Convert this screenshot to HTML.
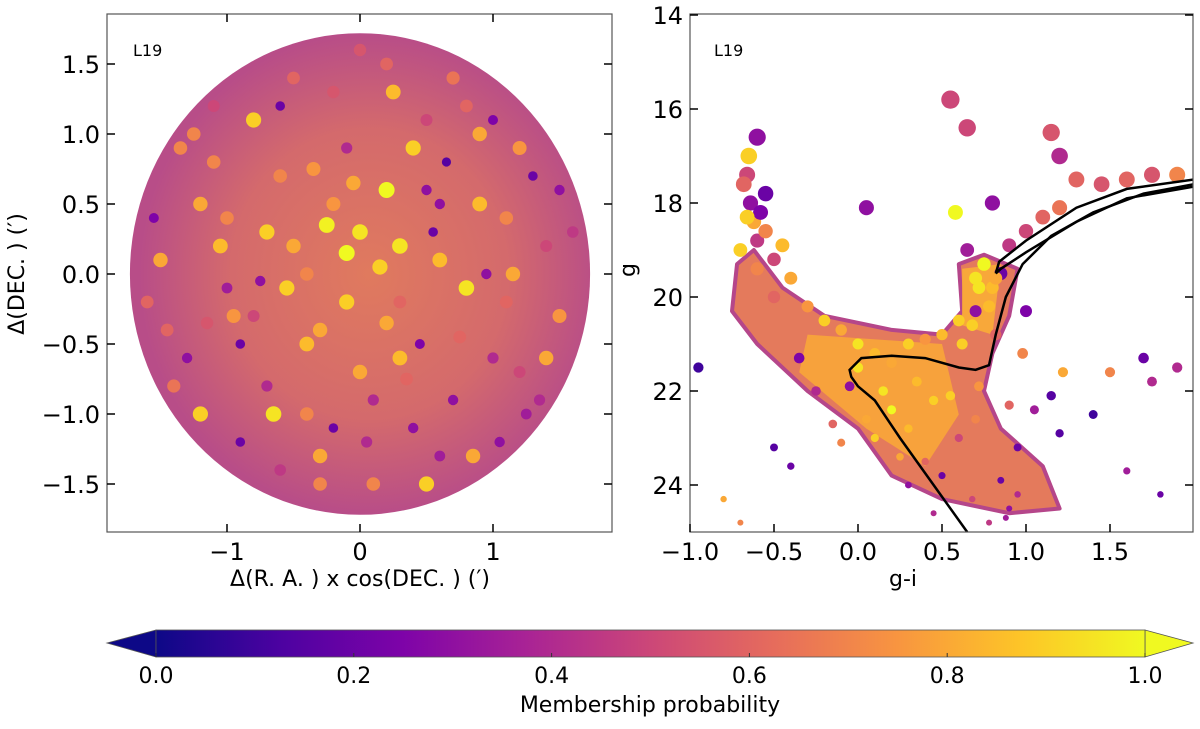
<!DOCTYPE html>
<html><head><meta charset="utf-8"><style>
body{margin:0;background:#fff;}
svg text{font-family:"DejaVu Sans","Liberation Sans",sans-serif;fill:#000;}
</style></head><body>
<svg id="fig" width="1200" height="724" viewBox="0 0 1200 724" xmlns="http://www.w3.org/2000/svg">
<defs>
<linearGradient id="plasma" x1="0" x2="1" y1="0" y2="0">
<stop offset="0" stop-color="#0d0887"/><stop offset="0.125" stop-color="#4c02a1"/><stop offset="0.25" stop-color="#7e03a8"/><stop offset="0.375" stop-color="#a92395"/><stop offset="0.5" stop-color="#cc4778"/><stop offset="0.625" stop-color="#e66c5c"/><stop offset="0.75" stop-color="#f89540"/><stop offset="0.875" stop-color="#fdc527"/><stop offset="1" stop-color="#f0f921"/>
</linearGradient>
<radialGradient id="diskgrad" cx="0.52" cy="0.5" r="0.5">
<stop offset="0" stop-color="#e07a5e"/><stop offset="0.6" stop-color="#d46a6c"/><stop offset="1" stop-color="#b84d88"/>
</radialGradient>
<clipPath id="clipL"><rect x="107" y="14" width="505" height="518"/></clipPath>
<clipPath id="clipR"><rect x="690" y="14" width="503" height="518"/></clipPath>
</defs>
<g id="left"></g>
<g id="right"></g>
<g id="cbar"></g>
</svg>
<script>
// ---- Sky panel data ----
const skyX=[-1.5,-1.3,-1.1,-0.9,-0.7,-0.5,-0.3,-0.1,0.1,0.3,0.5,0.7,0.9,1.1,1.3,1.5,-1.4,-1.2,-1.0,-0.8,-0.6,-0.4,-0.2,0.0,0.2,0.4,0.6,0.8,1.0,1.2,1.4,-1.2,-0.9,-0.6,-0.3,0.0,0.3,0.6,0.9,1.2,-1.0,-0.7,-0.4,-0.1,0.2,0.5,0.8,1.1,-0.8,-0.5,-0.2,0.1,0.4,0.7,-0.6,-0.3,0.0,0.3,0.6,-1.6,1.6,-0.1,0.2,-0.4,0.5,-1.1,1.0,0.15,-0.25,0.35,1.35,-1.35,0.85,-0.75,-1.55,-1.45,1.5,1.4,-0.2,0.25,-0.95,0.95,-0.55,0.65,-1.25,1.25,-0.05,0.45,-0.65,0.75,1.05,-1.05,0.05,-0.35,0.55,1.15,-1.15];
const skyY=[0.1,-0.6,0.8,-1.2,0.3,1.4,-0.4,0.9,-1.5,0.2,1.1,-0.9,0.5,-0.2,0.7,-0.3,-0.8,0.5,-0.1,1.1,-1.4,0.0,1.3,-0.7,0.6,-1.1,0.1,1.2,-0.6,0.9,0.2,-1.0,-0.5,0.7,-1.3,0.3,-0.2,-1.3,1.0,-0.7,0.4,-0.8,-0.5,-0.2,1.5,0.6,-0.1,0.4,-0.3,0.2,0.5,-0.9,0.9,1.4,1.2,-1.5,1.6,-0.6,0.5,-0.2,0.3,0.15,-0.35,-1.0,-1.5,1.2,1.1,0.05,0.35,-0.75,-0.9,0.9,-1.3,-0.05,0.4,-0.4,0.6,-0.6,-1.1,1.3,-0.3,0.0,-0.1,0.8,1.0,-1.0,0.65,-0.5,-1.0,-0.45,-1.2,0.2,-1.2,0.75,0.3,0.0,-0.35];
const skyProb=[0.8,0.3,0.7,0.2,0.9,0.6,0.8,0.4,0.7,0.95,0.5,0.3,0.85,0.6,0.2,0.75,0.65,0.8,0.35,0.9,0.45,0.7,0.55,0.8,1.0,0.3,0.85,0.6,0.4,0.75,0.5,0.9,0.2,0.7,0.8,0.95,0.6,0.35,0.8,0.5,0.7,0.4,0.85,0.9,0.6,0.3,0.95,0.7,0.5,0.8,0.75,0.4,0.9,0.65,0.2,0.7,0.55,0.85,0.3,0.6,0.45,1.0,0.8,0.7,0.9,0.5,0.25,0.9,0.98,0.6,0.4,0.7,0.8,0.3,0.25,0.6,0.3,0.8,0.2,0.85,0.75,0.3,0.9,0.15,0.7,0.35,0.8,0.25,0.95,0.6,0.3,0.85,0.4,0.75,0.2,0.8,0.55];
const skyXTicks=[-1,0,1];
const skyYTicks=[-1.5,-1.0,-0.5,0.0,0.5,1.0,1.5];
// ---- CMD panel data ----
const cmdColor=[-0.65,-0.66,-0.6,-0.55,-0.7,-0.45,-0.4,-0.6,-0.3,-0.5,-0.2,-0.1,0.0,0.1,0.2,0.3,0.4,0.5,0.6,0.7,0.75,0.8,0.7,0.65,0.85,0.9,1.0,1.1,1.2,0.55,0.58,0.65,0.8,1.15,1.2,1.3,1.45,1.6,1.75,1.9,0.05,-0.05,0.98,1.22,1.5,1.7,1.75,1.9,1.0,1.05,1.15,0.9,0.95,1.2,1.4,1.6,1.8,-0.8,-0.95,-0.7,-0.5,-0.4,-0.15,0.85,0.95,0.45,0.2,0.3,0.1,-0.1,0.4,0.6,0.3,0.5,0.15,0.7,0.25,0.55,0.35,0.62,0.72,0.82,0.68,0.9,-0.25,-0.35,0.0,0.05,0.45,0.78,0.88,-0.68,-0.64,-0.62,-0.6,-0.58,-0.55,-0.66,-0.5,0.72,0.78,0.68,0.82];
const cmdMag=[17.0,17.4,16.6,17.8,19.0,18.9,19.6,19.4,20.2,20.0,20.5,20.7,21.0,21.2,21.4,21.0,20.9,20.8,20.5,19.6,19.3,19.8,20.3,19.0,19.5,18.9,18.6,18.3,18.1,15.8,18.2,16.4,18.0,16.5,17.0,17.5,17.6,17.5,17.4,17.4,18.1,21.9,21.2,21.6,21.6,21.3,21.8,21.5,20.3,22.4,22.1,22.3,23.2,22.9,22.5,23.7,24.2,24.3,21.5,24.8,23.2,23.6,22.7,23.9,24.2,22.2,22.4,22.8,23.0,23.1,23.5,23.0,24.0,23.8,22.0,22.6,23.4,22.1,21.8,21.0,21.9,20.8,24.3,24.5,22.0,21.3,21.5,22.6,24.6,24.8,24.7,17.6,18.0,18.4,18.8,18.2,18.6,18.3,19.2,19.8,20.2,20.6,19.6];
const cmdProb=[0.9,0.5,0.3,0.2,0.9,0.85,0.8,0.7,0.75,0.6,0.9,0.8,0.95,0.85,0.8,0.9,0.75,0.85,0.9,0.95,1.0,0.85,0.3,0.35,0.2,0.45,0.5,0.6,0.65,0.5,1.0,0.5,0.3,0.55,0.4,0.6,0.55,0.6,0.55,0.7,0.3,0.3,0.7,0.8,0.7,0.2,0.4,0.4,0.25,0.35,0.15,0.6,0.2,0.15,0.1,0.35,0.2,0.8,0.1,0.7,0.15,0.2,0.6,0.2,0.4,0.9,1.0,0.85,0.9,0.7,0.6,0.5,0.3,0.2,0.95,0.7,0.8,0.9,0.85,0.9,0.75,0.6,0.5,0.3,0.4,0.25,0.95,0.8,0.4,0.45,0.35,0.6,0.3,0.8,0.45,0.25,0.7,0.9,0.5,0.95,0.85,0.9,0.8];
const isoColor=[0.65,0.45,0.25,0.1,0.0,-0.04,-0.05,0.02,0.2,0.4,0.6,0.7,0.78,0.82,0.88,0.98,1.15,1.4,1.7,2.0];
const isoMag=[25.0,24.0,23.0,22.2,21.9,21.7,21.55,21.3,21.25,21.3,21.5,21.55,21.45,20.8,20.0,19.3,18.7,18.2,17.8,17.6];
const hbColor=[0.82,0.85,1.0,1.3,1.6,2.0,2.0,1.6,1.3,1.0,0.84,0.82];
const hbMag=[19.5,19.4,19.05,18.4,17.9,17.65,17.5,17.7,18.1,18.8,19.25,19.5];
const cmdXTicks=[-1.0,-0.5,0.0,0.5,1.0,1.5];
const cmdYTicks=[14,16,18,20,22,24];
const cbarTicks=[0.0,0.2,0.4,0.6,0.8,1.0];

const NS="http://www.w3.org/2000/svg";
function mk(tag,attrs,parent){const e=document.createElementNS(NS,tag);for(const k in attrs)e.setAttribute(k,attrs[k]);parent.appendChild(e);return e;}
const stops=[[0,[13,8,135]],[0.125,[76,2,161]],[0.25,[126,3,168]],[0.375,[169,35,149]],[0.5,[204,71,120]],[0.625,[230,108,92]],[0.75,[248,149,64]],[0.875,[253,197,39]],[1,[240,249,33]]];
function plasma(v){v=Math.max(0,Math.min(1,v));for(let i=1;i<stops.length;i++){if(v<=stops[i][0]){const a=stops[i-1],b=stops[i],t=(v-a[0])/(b[0]-a[0]);const c=a[1].map((x,j)=>Math.round(x+(b[1][j]-x)*t));return `rgb(${c})`;}}return 'rgb(240,249,33)';}

// Left axes
const L=document.getElementById('left');
const lx=v=>360+v*133, ly=v=>274-v*140;
const disk=mk('ellipse',{cx:lx(0),cy:ly(0),rx:1.73*133,ry:1.72*140,fill:'url(#diskgrad)','clip-path':'url(#clipL)'},L);


skyX.forEach((x,i)=>{const c=mk('circle',{cx:lx(x),cy:ly(skyY[i]),r:4+skyProb[i]*4,fill:plasma(skyProb[i])},L);

});
const lf=mk('rect',{x:107,y:14,width:505,height:518,fill:'none',stroke:'#555','stroke-width':1.2},L);


skyXTicks.forEach(t=>{const x=lx(t);mk('line',{x1:x,x2:x,y1:532,y2:524,stroke:'#000','stroke-width':1.5},L);mk('line',{x1:x,x2:x,y1:14,y2:22,stroke:'#000','stroke-width':1.5},L);
const tx=mk('text',{x:x,y:560,'font-size':24,'text-anchor':'middle'},L);tx.textContent=t<0?'\u2212'+Math.abs(t):String(t);

});
skyYTicks.forEach(t=>{const y=ly(t);mk('line',{x1:107,x2:115,y1:y,y2:y,stroke:'#000','stroke-width':1.5},L);mk('line',{x1:612,x2:604,y1:y,y2:y,stroke:'#000','stroke-width':1.5},L);
const tx=mk('text',{x:100,y:y+9,'font-size':24,'text-anchor':'end'},L);tx.textContent=(t<0?'\u2212':'')+Math.abs(t).toFixed(1);

});
let t1=mk('text',{x:133,y:56,'font-size':16},L);t1.textContent='L19';


let t2=mk('text',{x:360,y:586,'font-size':22,'text-anchor':'middle'},L);t2.textContent='\u0394(R. A. ) x cos(DEC. ) (\u2032)';


let t3=mk('text',{x:0,y:0,'font-size':22,'text-anchor':'middle',transform:'translate(24,274) rotate(-90)'},L);t3.textContent='\u0394(DEC. ) (\u2032)';



// Right axes
const R=document.getElementById('right');
const rx=v=>858+v*168, ry=v=>15+(v-14)*47;
const gR=mk('g',{'clip-path':'url(#clipR)'},R);
const regC=[-0.62,-0.45,-0.2,0.2,0.5,0.62,0.6,0.75,0.95,0.9,0.8,0.75,0.85,1.1,1.2,0.9,0.5,0.2,0.0,-0.3,-0.6,-0.75,-0.72];
const regM=[19.0,19.8,20.4,20.7,20.8,20.3,19.3,19.1,19.4,20.4,21.2,22.0,22.8,23.6,24.5,24.6,24.3,23.8,22.8,22.0,21.0,20.3,19.3];
const dens=mk('path',{d:regC.map((c,i)=>(i?'L':'M')+rx(c)+','+ry(regM[i])).join('')+'Z',fill:'#e47a5c',stroke:'#b5468a','stroke-width':4,'stroke-linejoin':'round'},gR);


const core=mk('path',{d:'M'+rx(-0.3)+','+ry(20.8)+'L'+rx(0.5)+','+ry(21.0)+'L'+rx(0.6)+','+ry(22.5)+'L'+rx(0.4)+','+ry(23.6)+'L'+rx(0.05)+','+ry(22.8)+'L'+rx(-0.35)+','+ry(21.6)+'Z',fill:'#f7a23c'},gR);


const rgb=mk('path',{d:'M'+rx(0.62)+','+ry(19.4)+'L'+rx(0.85)+','+ry(19.3)+'L'+rx(0.8)+','+ry(20.8)+'L'+rx(0.62)+','+ry(20.6)+'Z',fill:'#f8a83a'},gR);


cmdColor.forEach((c,i)=>{const m=cmdMag[i];const r=Math.max(3,9-(m-16)*0.7);const p=mk('circle',{cx:rx(c),cy:ry(m),r:r,fill:plasma(cmdProb[i])},gR);

});
const iso=mk('path',{d:isoColor.map((c,i)=>(i?'L':'M')+rx(c)+','+ry(isoMag[i])).join(''),fill:'none',stroke:'#000','stroke-width':2.5},gR);


const hb=mk('path',{d:hbColor.map((c,i)=>(i?'L':'M')+rx(c)+','+ry(hbMag[i])).join(''),fill:'none',stroke:'#000','stroke-width':2.5},gR);


const rf=mk('rect',{x:690,y:14,width:503,height:518,fill:'none',stroke:'#555','stroke-width':1.2},R);


cmdXTicks.forEach(t=>{const x=rx(t);mk('line',{x1:x,x2:x,y1:532,y2:524,stroke:'#000','stroke-width':1.5},R);
const tx=mk('text',{x:x,y:560,'font-size':24,'text-anchor':'middle'},R);tx.textContent=(t<0?'\u2212':'')+Math.abs(t).toFixed(1);

});
cmdYTicks.forEach(t=>{const y=ry(t);mk('line',{x1:690,x2:698,y1:y,y2:y,stroke:'#000','stroke-width':1.5},R);mk('line',{x1:1193,x2:1185,y1:y,y2:y,stroke:'#000','stroke-width':1.5},R);
const tx=mk('text',{x:683,y:y+9,'font-size':24,'text-anchor':'end'},R);tx.textContent=String(t);

});
let t4=mk('text',{x:714,y:56,'font-size':16},R);t4.textContent='L19';


let t5=mk('text',{x:903,y:586,'font-size':22,'text-anchor':'middle'},R);t5.textContent='g-i';


let t6=mk('text',{x:0,y:0,'font-size':22,'text-anchor':'middle',transform:'translate(635,270) rotate(-90)'},R);t6.textContent='g';



// Colorbar
const C=document.getElementById('cbar');
const cx=v=>156+v*989;
const lt=mk('polygon',{points:'107,643 156,630 156,657',fill:'#0d0887',stroke:'#555','stroke-width':0.8},C);


const rt=mk('polygon',{points:'1193,643 1145,630 1145,657',fill:'#f0f921',stroke:'#555','stroke-width':0.8},C);


const bar=mk('rect',{x:156,y:630,width:989,height:27,fill:'url(#plasma)',stroke:'#555','stroke-width':0.8},C);


cbarTicks.forEach(t=>{const x=cx(t);mk('line',{x1:x,x2:x,y1:657,y2:653,stroke:'#333','stroke-width':1},C);
const tx=mk('text',{x:x,y:683,'font-size':22,'text-anchor':'middle'},C);tx.textContent=t.toFixed(1);

});
let t7=mk('text',{x:650,y:712,'font-size':22,'text-anchor':'middle'},C);t7.textContent='Membership probability';


</script>
</body></html>
